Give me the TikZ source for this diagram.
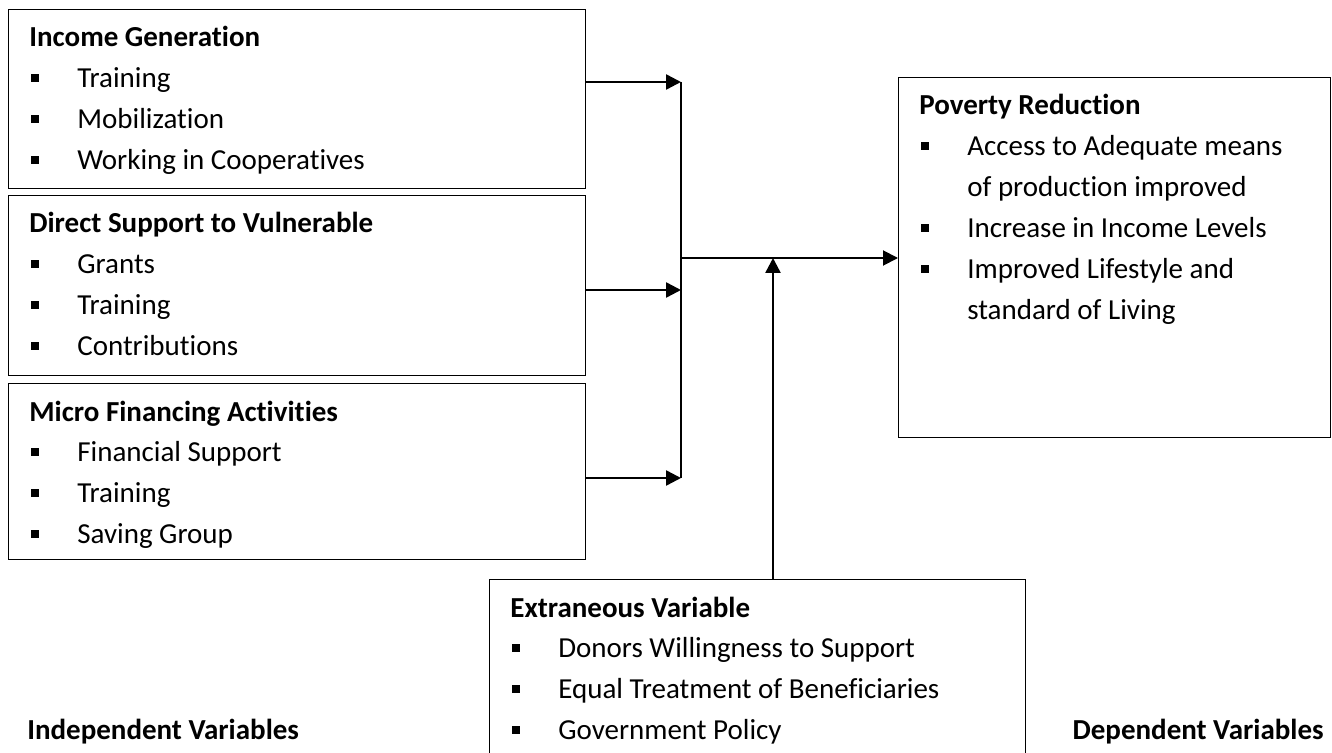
\documentclass[tikz,border=0pt]{standalone}
\usepackage{fontspec}
\setmainfont{Carlito}[Ligatures=NoCommon]
\usetikzlibrary{arrows.meta}
\newcommand{\itm}{\hspace*{0.04cm}\rule[0.12cm]{0.15cm}{0.15cm}\hspace*{0.77cm}}
\newcommand{\cont}{\hspace*{0.96cm}}
\begin{document}
\begin{tikzpicture}[x=0.02cm,y=-0.02cm,
    box/.style={draw,line width=0.6pt,anchor=north west,inner sep=0pt},
    list/.style={anchor=base west,inner sep=0pt,font=\fontsize{16.5}{23.3}\selectfont},
    lbl/.style={anchor=base west,inner sep=0pt,font=\fontsize{16.5}{20}\selectfont\bfseries},
    arr/.style={-{Triangle[length=0.3cm,width=0.3cm]},line width=1.4pt}]
    \useasboundingbox (0,0) rectangle (1332,753);
    % independent variables
    \node[box,minimum width=11.54cm,minimum height=3.58cm] (income) at (8,9) {};
    \node[list] (incomelist) at ([shift={(21,38)}]income.north west) {\begin{tabular}[t]{@{}l@{}}
      \textbf{Income Generation}\\ \itm Training\\ \itm Mobilization\\ \itm Working in Cooperatives
    \end{tabular}};
    \node[box,minimum width=11.54cm,minimum height=3.6cm] (direct) at (8,195) {};
    \node[list] (directlist) at ([shift={(21,38)}]direct.north west) {\begin{tabular}[t]{@{}l@{}}
      \textbf{Direct Support to Vulnerable}\\ \itm Grants\\ \itm Training\\ \itm Contributions
    \end{tabular}};
    \node[box,minimum width=11.54cm,minimum height=3.52cm] (micro) at (8,383) {};
    \begin{scope}
      \clip (micro.north west) rectangle ([yshift=0.22cm]micro.south east);
      \node[list] (microlist) at ([shift={(21,38)}]micro.north west) {\begin{tabular}[t]{@{}l@{}}
        \textbf{Micro Financing Activities}\\ \itm Financial Support\\ \itm Training\\ \itm Saving Group
      \end{tabular}};
    \end{scope}
    % dependent variable
    \node[box,minimum width=8.64cm,minimum height=7.2cm] (poverty) at (898,77) {};
    \node[list] (povertylist) at ([shift={(21,38)}]poverty.north west) {\begin{tabular}[t]{@{}l@{}}
      \textbf{Poverty Reduction}\\ \itm Access to Adequate means\\ \cont of production improved\\
      \itm Increase in Income Levels\\ \itm Improved Lifestyle and\\ \cont standard of Living
    \end{tabular}};
    % extraneous variable
    \node[box,minimum width=10.72cm,minimum height=4cm] (extra) at (489,579) {};
    \node[list] (extralist) at ([shift={(21,38)}]extra.north west) {\begin{tabular}[t]{@{}l@{}}
      \textbf{Extraneous Variable}\\ \itm Donors Willingness to Support\\
      \itm Equal Treatment of Beneficiaries\\ \itm Government Policy
    \end{tabular}};
    \node[lbl] (indep) at (27,739) {Independent Variables};
    \node[lbl,anchor=base east] (dep) at (1324,739) {Dependent Variables};
    % connectors
    \coordinate (j1) at (681,82);
    \coordinate (j2) at (681,290);
    \coordinate (j3) at (681,478);
    \coordinate (hub) at (681,258);
    \coordinate (meet) at (773,258);
    \draw[arr] (income.east |- j1) -- (j1);
    \draw[arr] (direct.east |- j2) -- (j2);
    \draw[arr] (micro.east |- j3) -- (j3);
    \draw[line width=0.7pt] (j1) -- (j3);
    \draw[arr,line width=1.1pt] (hub) -- (hub -| poverty.west);
    \draw[arr] (extra.north -| meet) -- (meet);
\end{tikzpicture}
\end{document}
